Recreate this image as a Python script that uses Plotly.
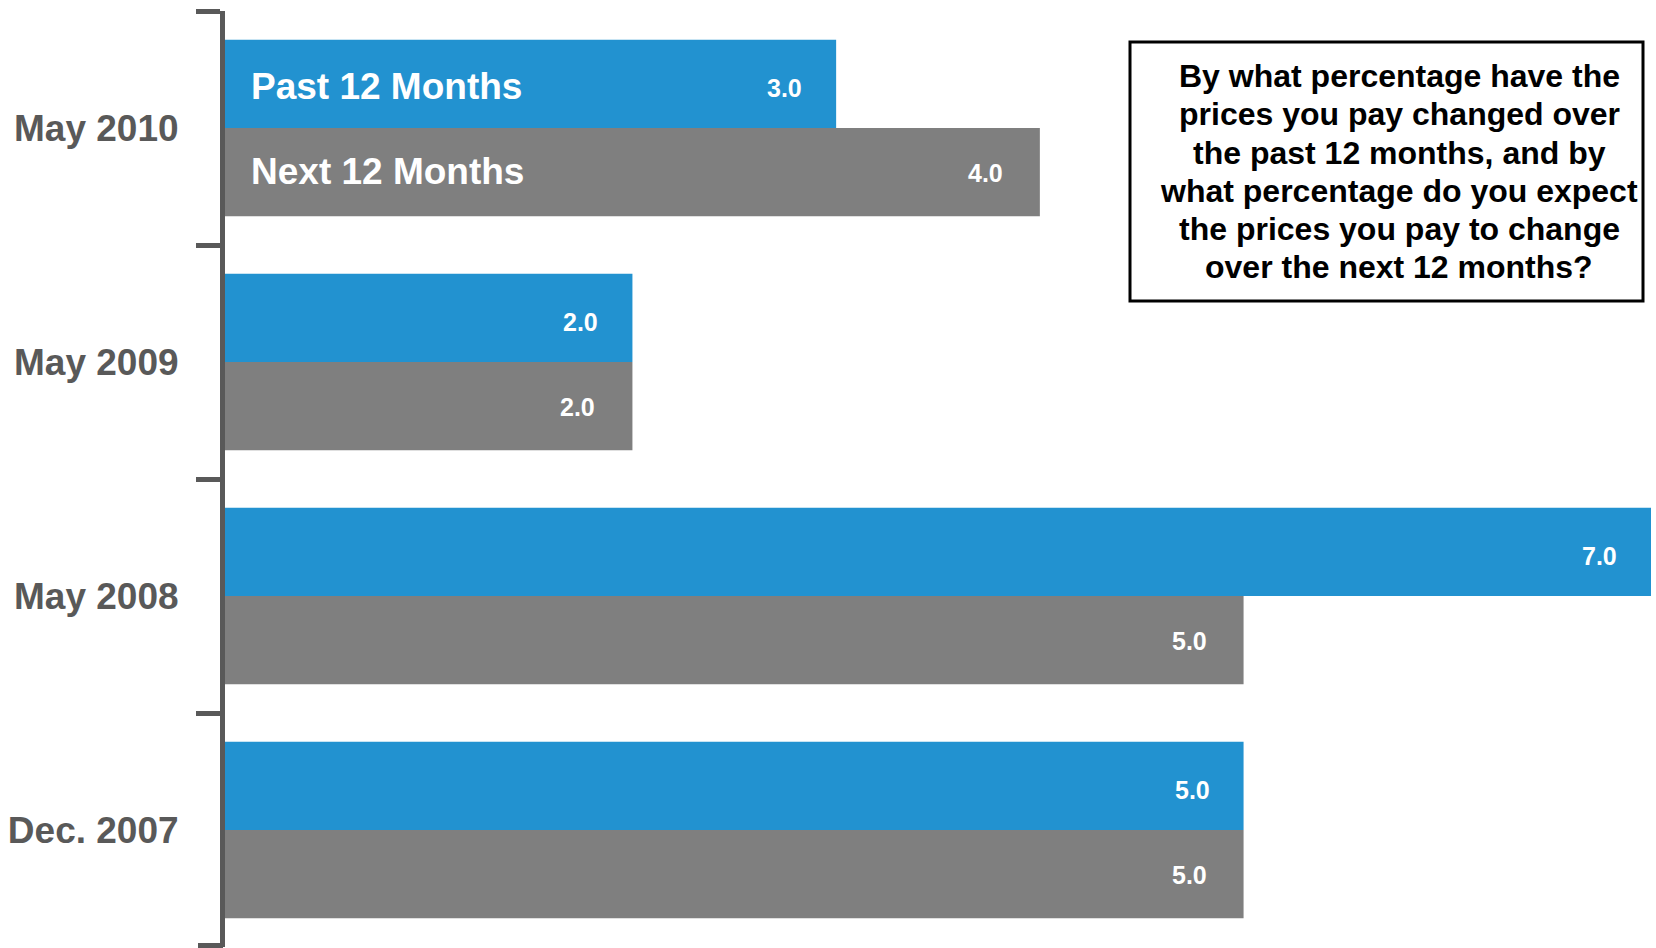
import plotly.graph_objects as go

# ---- data ----
categories = ["May 2010", "May 2009", "May 2008", "Dec. 2007"]
past_12 = [3.0, 2.0, 7.0, 5.0]
next_12 = [4.0, 2.0, 5.0, 5.0]
series_names = ["Past 12 Months", "Next 12 Months"]
question_lines = [
    "By what percentage have the",
    "prices you pay changed over",
    "the past 12 months, and by",
    "what percentage do you expect",
    "the prices you pay to change",
    "over the next 12 months?",
]

BLUE = "#2292D0"
GRAY = "#7F7F7F"
AXIS = "#595959"
FONT = "Liberation Sans, Arial, sans-serif"

W, H = 1656, 948
ML, MR, MT, MB = 225, 5, 11, 1
PW, PH = W - ML - MR, H - MT - MB
BARGAP = 0.245
HALF = (1 - BARGAP) / 4  # offset of each bar centre from category centre


def px_x(px):
    return (px - ML) / PW


def px_y(py):
    return 1 - (py - MT) / PH


fig = go.Figure()
fig.add_trace(go.Bar(y=categories, x=past_12, orientation="h", name=series_names[0],
                     marker=dict(color=BLUE, line=dict(width=0))))
fig.add_trace(go.Bar(y=categories, x=next_12, orientation="h", name=series_names[1],
                     marker=dict(color=GRAY, line=dict(width=0))))

annotations = []
# value labels inside bar ends
for i, (p, n) in enumerate(zip(past_12, next_12)):
    for val, off, xs, ys in ((p, -HALF, -32, -4), (n, HALF, -35, -0.5)):
        annotations.append(dict(
            x=val, y=i + off, xref="x", yref="y", text=f"<b>{val:.1f}</b>",
            showarrow=False, xanchor="right", yanchor="middle", xshift=xs, yshift=ys,
            font=dict(family=FONT, size=25, color="white")))

# series names inside the top group
for name, off, ys in zip(series_names, (-HALF, HALF), (-3, 1)):
    annotations.append(dict(
        x=0, y=0 + off, xref="x", yref="y", text=f"<b>{name}</b>",
        showarrow=False, xanchor="left", yanchor="middle", xshift=24, yshift=ys,
        font=dict(family=FONT, size=37, color="white")))

# question box text
line_y = [76, 114, 153, 191, 229, 267]
for txt, yy in zip(question_lines, line_y):
    annotations.append(dict(
        x=px_x(1399), y=px_y(yy), xref="paper", yref="paper", text=f"<b>{txt}</b>",
        showarrow=False, xanchor="center", yanchor="middle",
        font=dict(family=FONT, size=32, color="black")))

fig.add_shape(type="rect", xref="paper", yref="paper",
              x0=px_x(1130), x1=px_x(1643), y0=px_y(42), y1=px_y(301),
              line=dict(color="black", width=3), fillcolor="rgba(0,0,0,0)")

# closing tick at the bottom of the bracket
fig.add_shape(type="line", xref="paper", yref="paper",
              x0=px_x(198), x1=px_x(223), y0=px_y(945.5), y1=px_y(945.5),
              line=dict(color=AXIS, width=5))

fig.update_layout(
    width=W, height=H,
    margin=dict(l=ML, r=MR, t=MT, b=MB, pad=0),
    barmode="group", bargap=BARGAP, bargroupgap=0,
    paper_bgcolor="white", plot_bgcolor="white",
    showlegend=False,
    annotations=annotations,
    xaxis=dict(range=[0, 7], visible=False, showgrid=False, zeroline=False, fixedrange=True),
    yaxis=dict(
        type="category", range=[3.5, -0.5], showgrid=False, zeroline=False,
        showline=True, linecolor=AXIS, linewidth=5,
        ticks="outside", tickson="boundaries", ticklen=24, tickwidth=5, tickcolor=AXIS,
        tickfont=dict(family=FONT, size=37, color=AXIS),
        ticklabelstandoff=34,
        tickprefix="<b>", ticksuffix="</b>",
    ),
)

fig.write_html("out.html", config={"displayModeBar": False})
